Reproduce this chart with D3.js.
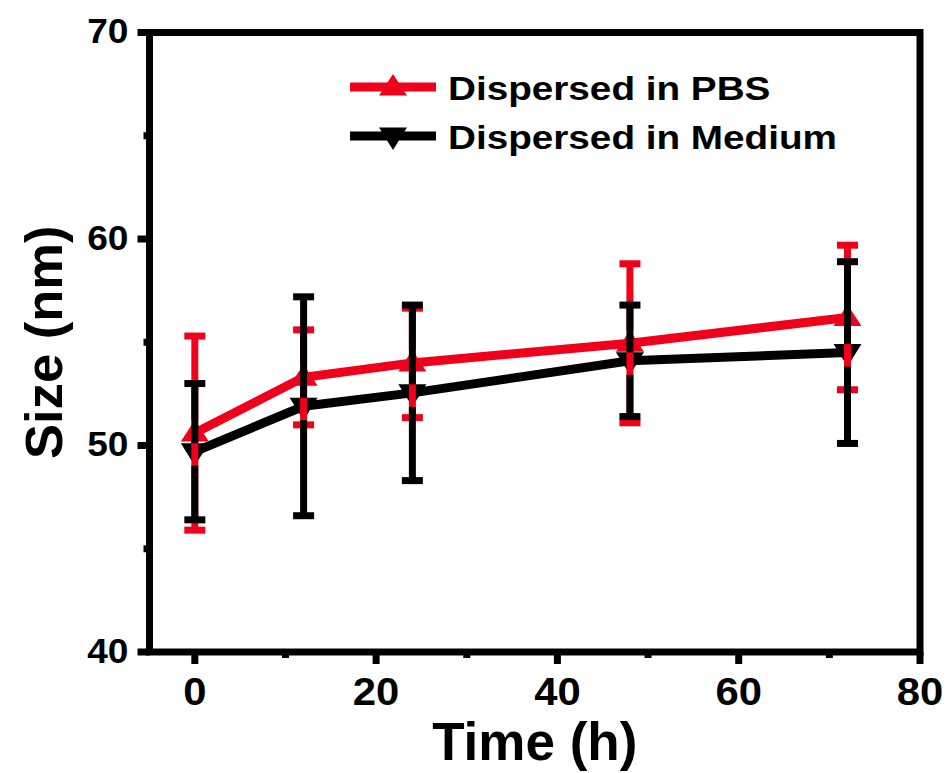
<!DOCTYPE html>
<html>
<head>
<meta charset="utf-8">
<script src="https://cdn.jsdelivr.net/npm/d3@7"></script>
<style>
    body { margin: 0; background: #fff; }
    text { font-family: Arial, 'Liberation Sans', sans-serif; font-weight: bold; fill: #000; }
</style>
</head>
<body>
<div id="chart"></div>
<script>
// data
const times = [0, 12, 24, 48, 72];
const pbsMean = [50.6, 53.3, 54.0, 54.95, 56.2];
const pbsErr = [4.7, 2.3, 2.65, 3.85, 3.5];
const mediumMean = [49.7, 51.9, 52.55, 54.1, 54.5];
const mediumErr = [3.3, 5.3, 4.25, 2.7, 4.4];

const xTicks = [0, 20, 40, 60, 80];
const xMinor = [10, 30, 50, 70];
const yTicks = [40, 50, 60, 70];
const yMinor = [45, 55, 65];

const red = '#f0001a';
const black = '#000000';

const width = 947, height = 773;
const svg = d3.select('#chart')
    .append('svg')
    .attr('width', width)
    .attr('height', height);

const x = d3.scaleLinear().domain([-5, 80]).range([149.5, 920]);
const y = d3.scaleLinear().domain([40, 70]).range([652, 32.5]);

const axisW = 7;

// marker shapes (up / down triangles)
const upTri = 'M0,-13 L14,8.5 L-14,8.5 Z';
const downTri = 'M0,14 L14,-8.5 L-14,-8.5 Z';

const series = [
    { name: 'Dispersed in PBS', mean: pbsMean, err: pbsErr, color: red, marker: upTri, gap: [-13, 8.5] },
    { name: 'Dispersed in Medium', mean: mediumMean, err: mediumErr, color: black, marker: downTri, gap: [-8.5, 14] }
];

const line = d3.line()
    .x(d => x(d.t))
    .y(d => y(d.v));

// lines + markers
series.forEach(s => {
    const pts = times.map((t, i) => ({ t: t, v: s.mean[i], e: s.err[i] }));
    svg.append('path')
        .datum(pts)
        .attr('d', line)
        .attr('fill', 'none')
        .attr('stroke', s.color)
        .attr('stroke-width', 9)
        .attr('stroke-linejoin', 'miter');

    svg.selectAll(null)
        .data(pts)
        .enter()
        .append('path')
        .attr('d', s.marker)
        .attr('transform', d => `translate(${x(d.t)},${y(d.v)})`)
        .attr('fill', s.color);
});

// error bars on top, with a gap over each series' own marker
series.forEach(s => {
    const pts = times.map((t, i) => ({ t: t, v: s.mean[i], e: s.err[i] }));
    const g = svg.append('g')
        .attr('stroke', s.color)
        .attr('stroke-width', 7);

    pts.forEach(d => {
        const cx = x(d.t), cy = y(d.v);
        const top = y(d.v + d.e), bot = y(d.v - d.e);
        g.append('line').attr('x1', cx).attr('x2', cx).attr('y1', top).attr('y2', cy + s.gap[0]);
        g.append('line').attr('x1', cx).attr('x2', cx).attr('y1', cy + s.gap[1]).attr('y2', bot);
        g.append('line').attr('x1', cx - 10.5).attr('x2', cx + 10.5).attr('y1', top).attr('y2', top);
        g.append('line').attr('x1', cx - 10.5).attr('x2', cx + 10.5).attr('y1', bot).attr('y2', bot);
    });
});

// frame
svg.append('rect')
    .attr('x', x(-5))
    .attr('y', y(70))
    .attr('width', x(80) - x(-5))
    .attr('height', y(40) - y(70))
    .attr('fill', 'none')
    .attr('stroke', '#000')
    .attr('stroke-width', axisW)
    .attr('stroke-linejoin', 'miter');

// ticks (outward, bottom + left only)
const ticks = svg.append('g').attr('stroke', '#000').attr('stroke-width', axisW);
xTicks.forEach(t => {
    ticks.append('line').attr('x1', x(t)).attr('x2', x(t)).attr('y1', y(40)).attr('y2', y(40) + 12);
});
xMinor.forEach(t => {
    ticks.append('line').attr('x1', x(t)).attr('x2', x(t)).attr('y1', y(40)).attr('y2', y(40) + 6);
});
yTicks.forEach(t => {
    ticks.append('line').attr('x1', x(-5)).attr('x2', x(-5) - 12).attr('y1', y(t)).attr('y2', y(t));
});
yMinor.forEach(t => {
    ticks.append('line').attr('x1', x(-5)).attr('x2', x(-5) - 6).attr('y1', y(t)).attr('y2', y(t));
});

// tick labels
svg.selectAll('.xlab')
    .data(xTicks)
    .enter()
    .append('text')
    .attr('transform', d => `translate(${x(d)},705) scale(1.1,1)`)
    .attr('text-anchor', 'middle')
    .style('font-size', '38px')
    .text(d => d);

svg.selectAll('.ylab')
    .data(yTicks)
    .enter()
    .append('text')
    .attr('transform', d => `translate(128.5,${y(d) + 10.5}) scale(1.06,1)`)
    .attr('text-anchor', 'end')
    .style('font-size', '35px')
    .text(d => d);

// axis titles
svg.append('text')
    .attr('x', (x(-5) + x(80)) / 2)
    .attr('y', 760)
    .attr('text-anchor', 'middle')
    .style('font-size', '53px')
    .text('Time (h)');

svg.append('text')
    .attr('transform', `translate(62,${(y(40) + y(70)) / 2}) rotate(-90)`)
    .attr('text-anchor', 'middle')
    .style('font-size', '52.5px')
    .text('Size (nm)');

// legend
series.forEach((s, i) => {
    const ly = 87 + i * 49;
    svg.append('line')
        .attr('x1', 350).attr('x2', 436)
        .attr('y1', ly).attr('y2', ly)
        .attr('stroke', s.color)
        .attr('stroke-width', 9);
    svg.append('path')
        .attr('d', s.marker)
        .attr('transform', `translate(393,${ly})`)
        .attr('fill', s.color);
    svg.append('text')
        .attr('transform', `translate(448,${ly + 12.5}) scale(1.19,1)`)
        .style('font-size', '32.5px')
        .text(s.name);
});
</script>
</body>
</html>
